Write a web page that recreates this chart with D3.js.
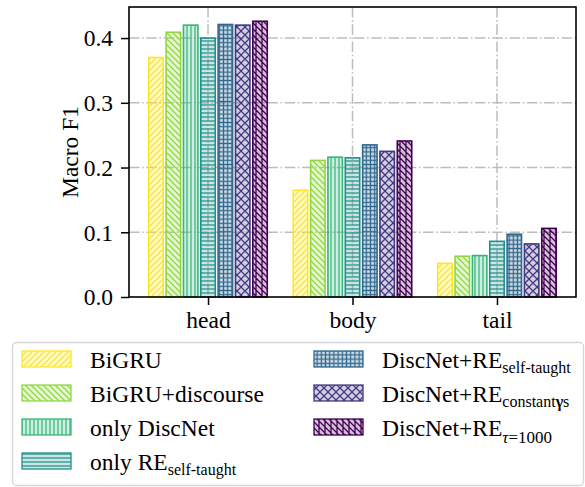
<!DOCTYPE html>
<html>
<head>
<meta charset="utf-8">
<script src="https://cdnjs.cloudflare.com/ajax/libs/d3/7.8.5/d3.min.js"></script>
<style>
  body { margin: 0; background: #fff; }
  text { font-family: "Liberation Serif", "Times New Roman", serif; }
</style>
</head>
<body>
<div id="container"></div>
<script>
var width = 585,
    height = 487,
    margin = { left: 129, top: 7, right: 9, bottom: 190 },
    g_width = width - margin.left - margin.right,
    g_height = height - margin.top - margin.bottom;

// data
var categories = ['head', 'body', 'tail'];
var BiGRU        = [0.370, 0.165, 0.052];
var BiGRU_disc   = [0.409, 0.211, 0.063];
var only_DiscNet = [0.420, 0.216, 0.064];
var only_RE      = [0.400, 0.215, 0.086];
var RE_self      = [0.421, 0.235, 0.097];
var RE_constant  = [0.420, 0.225, 0.082];
var RE_tau1000   = [0.426, 0.241, 0.106];
var series = [BiGRU, BiGRU_disc, only_DiscNet, only_RE, RE_self, RE_constant, RE_tau1000];
var legend_main = ['BiGRU', 'BiGRU+discourse', 'only DiscNet', 'only RE', 'DiscNet+RE', 'DiscNet+RE', 'DiscNet+RE'];
var legend_sub  = ['', '', '', 'self-taught', 'self-taught', 'constantγs', 'τ=1000'];
var hatches = ['/', '\\', '|', '-', '+', 'x', 'N'];
var y_ticks = [0.0, 0.1, 0.2, 0.3, 0.4];

var colors = series.map(function (d, i) { return d3.interpolateViridis(1 - i / 6); });

var svg = d3.select('#container')
    .append('svg')
    .attr('width', width)
    .attr('height', height);

// hatch patterns
var defs = svg.append('defs');
function hatchPath(h) {
    if (h == '/') return { s: 6, d: 'M0,6L6,0M-1.5,1.5L1.5,-1.5M4.5,7.5L7.5,4.5' };
    if (h == '\\') return { s: 6, d: 'M0,0L6,6M-1.5,4.5L1.5,7.5M4.5,-1.5L7.5,1.5' };
    if (h == '|') return { s: 4, d: 'M2,0L2,4' };
    if (h == '-') return { s: 4, d: 'M0,2L4,2' };
    if (h == '+') return { s: 4.2, d: 'M2.1,0L2.1,4.2M0,2.1L4.2,2.1' };
    if (h == 'x') return { s: 8, d: 'M0,0L8,8M0,8L8,0' };
    return { s: 6, d: 'M0,0L6,6M-1.5,4.5L1.5,7.5M4.5,-1.5L7.5,1.5M1,0L1,6' };
}
hatches.forEach(function (h, i) {
    var hp = hatchPath(h);
    var p = defs.append('pattern')
        .attr('id', 'hatch' + i)
        .attr('patternUnits', 'userSpaceOnUse')
        .attr('width', hp.s)
        .attr('height', hp.s);
    p.append('rect').attr('width', hp.s).attr('height', hp.s)
        .attr('fill', colors[i]).attr('fill-opacity', 0.24);
    p.append('path').attr('d', hp.d)
        .attr('stroke', colors[i]).attr('stroke-width', 1.25).attr('fill', 'none');
});

var g = svg.append('g')
    .attr('transform', 'translate(' + margin.left + ',' + margin.top + ')');

var scale_x = d3.scalePoint()
    .domain(categories)
    .range([0, g_width])
    .padding(0.547);
var group_w = scale_x.step() * 0.84;
var scale_x1 = d3.scaleBand()
    .domain(d3.range(series.length))
    .range([-group_w / 2, group_w / 2])
    .paddingInner(1 / 6)
    .paddingOuter(1 / 12);
var scale_y = d3.scaleLinear()
    .domain([0, 0.448])
    .range([g_height, 0]);

// grid
var grid = g.append('g')
    .attr('stroke', '#bdbdbd')
    .attr('stroke-width', 1.5)
    .attr('stroke-dasharray', '10.5,2.6,1.6,2.6');
grid.selectAll('.hg').data(y_ticks.slice(1)).enter().append('line')
    .attr('x1', 0).attr('x2', g_width)
    .attr('y1', function (d) { return scale_y(d); })
    .attr('y2', function (d) { return scale_y(d); });
grid.selectAll('.vg').data(categories).enter().append('line')
    .attr('y1', 0).attr('y2', g_height)
    .attr('x1', function (d) { return scale_x(d); })
    .attr('x2', function (d) { return scale_x(d); });

// bars
series.forEach(function (vals, i) {
    g.append('g').selectAll('rect')
        .data(vals)
        .enter()
        .append('rect')
        .attr('x', function (d, j) { return scale_x(categories[j]) + scale_x1(i); })
        .attr('width', scale_x1.bandwidth())
        .attr('y', function (d) { return scale_y(d); })
        .attr('height', function (d) { return g_height - scale_y(d); })
        .attr('fill', 'url(#hatch' + i + ')')
        .attr('stroke', colors[i])
        .attr('stroke-width', 1.6);
});

// axes
var x_axis = d3.axisBottom(scale_x).tickSize(8).tickSizeOuter(0).tickPadding(6);
var y_axis = d3.axisLeft(scale_y).tickValues(y_ticks).tickFormat(d3.format('.1f'))
    .tickSize(8).tickSizeOuter(0).tickPadding(8);
var xa = g.append('g')
    .attr('transform', 'translate(0,' + g_height + ')')
    .call(x_axis);
var ya = g.append('g').call(y_axis);
[xa, ya].forEach(function (a) {
    a.attr('font-family', null);
    a.select('.domain').remove();
    a.selectAll('line').attr('stroke', '#000').attr('stroke-width', 1.5);
    a.selectAll('text').attr('font-size', '23.5px').attr('fill', '#000');
});
ya.selectAll('text').attr('dy', '0.33em');
xa.selectAll('text').attr('dy', '0.72em');

g.append('rect')
    .attr('width', g_width)
    .attr('height', g_height)
    .attr('fill', 'none')
    .attr('stroke', '#000')
    .attr('stroke-width', 1.6);

g.append('text')
    .text('Macro F1')
    .attr('transform', 'translate(' + (-59) + ',' + (g_height / 2) + ') rotate(-90)')
    .attr('text-anchor', 'middle')
    .attr('font-size', '23.5px')
    .attr('dy', '0.35em');

// legend
var legend = svg.append('g');
legend.append('rect')
    .attr('x', 12.5).attr('y', 342.5)
    .attr('width', 571).attr('height', 143)
    .attr('rx', 4)
    .attr('fill', '#fff')
    .attr('stroke', '#d6d6d6')
    .attr('stroke-width', 1.3);
series.forEach(function (vals, i) {
    var col = i < 4 ? 0 : 1,
        row = i < 4 ? i : i - 4,
        lx = col == 0 ? 22 : 314,
        ly = 359 + row * 34;
    legend.append('rect')
        .attr('x', lx).attr('y', ly - 8)
        .attr('width', 49).attr('height', 16)
        .attr('fill', 'url(#hatch' + i + ')')
        .attr('stroke', colors[i])
        .attr('stroke-width', 1.3);
    var t = legend.append('text')
        .attr('x', lx + 68)
        .attr('y', ly + 8.5)
        .attr('font-size', '23.5px');
    t.append('tspan').text(legend_main[i]);
    var sub = legend_sub[i];
    if (sub) {
        var shift = sub.indexOf('τ') >= 0 ? 7 : 5;
        var parts = sub.split(/(γ|τ)/).filter(function (s) { return s.length; });
        parts.forEach(function (p, k) {
            var ts = t.append('tspan').text(p).attr('font-size', p == 'τ' || sub.indexOf('τ') >= 0 ? '17px' : '16px');
            if (k == 0) ts.attr('dy', shift);
            if (p == 'γ') ts.attr('font-weight', 'bold');
            if (p == 'τ') ts.attr('font-style', 'italic');
        });
    }
});
</script>
</body>
</html>
